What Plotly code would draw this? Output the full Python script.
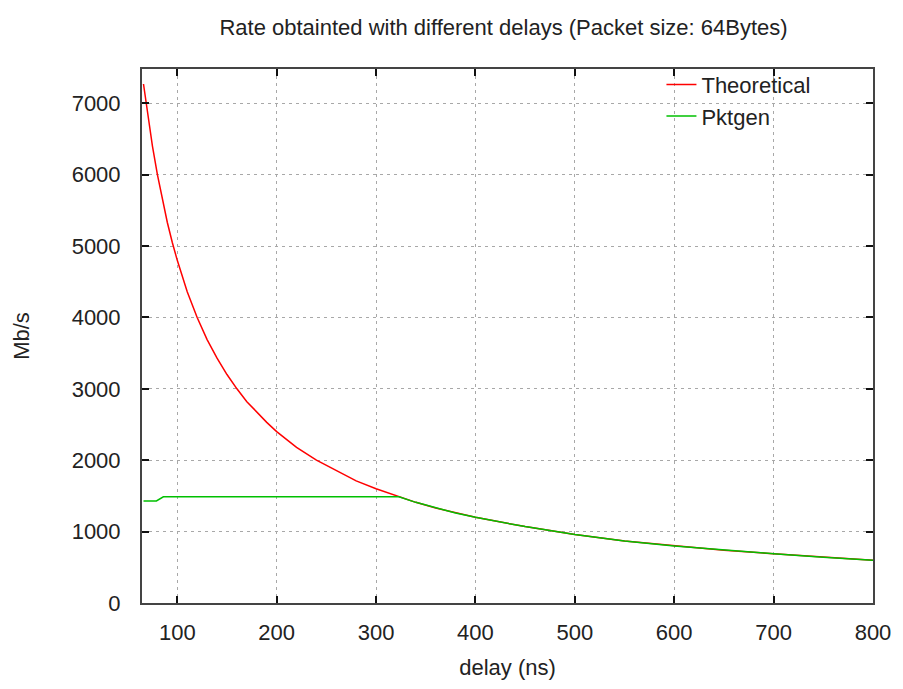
import plotly.graph_objects as go

# Delay values (ns) and the theoretical rate (Mb/s) at each delay
delay_theory = [66, 70, 75, 80, 85, 90, 95, 100, 110, 120, 130, 140, 150, 160,
                170, 180, 190, 200, 220, 240, 260, 280, 300, 320, 340, 360,
                380, 400, 450, 500, 550, 600, 650, 700, 750, 800]
rate_theory = [7270, 6860, 6400, 6000, 5650, 5330, 5050, 4800, 4360, 4000,
               3690, 3430, 3200, 3000, 2820, 2670, 2530, 2400, 2180, 2000,
               1850, 1710, 1600, 1500, 1410, 1330, 1260, 1200, 1070, 960,
               870, 800, 740, 690, 640, 600]

# Rate measured with pktgen
delay_pktgen = [66, 79, 86, 100, 150, 200, 250, 300, 323, 340, 360, 380, 400,
                450, 500, 550, 600, 650, 700, 750, 800]
rate_pktgen = [1430, 1430, 1487, 1487, 1487, 1487, 1487, 1487, 1487, 1410,
               1330, 1260, 1200, 1070, 960, 870, 800, 740, 690, 640, 600]

x_ticks = [100, 200, 300, 400, 500, 600, 700, 800]
y_ticks = [0, 1000, 2000, 3000, 4000, 5000, 6000, 7000]

FONT = "Liberation Sans, Arial, sans-serif"
TEXT = "#222222"
SIZE = 22

fig = go.Figure()
fig.add_trace(go.Scatter(x=delay_theory, y=rate_theory, mode="lines",
                         name="Theoretical",
                         line=dict(color="#ff0000", width=1.5)))
fig.add_trace(go.Scatter(x=delay_pktgen, y=rate_pktgen, mode="lines",
                         name="Pktgen",
                         line=dict(color="#00c000", width=1.5)))

axis_common = dict(
    showline=True, linecolor="#444444", linewidth=2, mirror="ticks",
    ticks="inside", ticklen=7, tickwidth=1.5, tickcolor="#111111",
    showgrid=True, gridcolor="#a8a8a8", gridwidth=1, griddash="3px,4px",
    zeroline=False, tickfont=dict(family=FONT, size=SIZE, color=TEXT),
)

fig.update_xaxes(range=[64.5, 800], tickvals=x_ticks, ticklabelstandoff=9,
                 title=dict(text="delay (ns)", standoff=15,
                            font=dict(family=FONT, size=SIZE, color=TEXT)),
                 **axis_common)
fig.update_yaxes(range=[0, 7480], tickvals=y_ticks, ticklabelstandoff=15,
                 title=dict(text="Mb/s", standoff=36,
                            font=dict(family=FONT, size=SIZE, color=TEXT)),
                 **axis_common)

# white panel behind the key, hiding the grid there
fig.add_shape(type="rect", xref="paper", yref="paper",
              x0=(600 - 142) / 736, x1=(862 - 142) / 736,
              y0=1 - (128 - 69) / 534, y1=1.0,
              fillcolor="white", line=dict(width=0), layer="between")

fig.update_layout(
    width=903, height=689,
    margin=dict(l=142, r=25, t=69, b=86),
    paper_bgcolor="white", plot_bgcolor="white",
    title=dict(text="Rate obtainted with different delays (Packet size: 64Bytes)",
               x=(506 - 142) / 736, xref="paper", xanchor="center",
               y=1 - 27 / 689, yanchor="middle",
               font=dict(family=FONT, size=SIZE, color=TEXT)),
    legend=dict(x=(665 - 142) / 736, y=1.01, xanchor="left", yanchor="top",
                bgcolor="rgba(0,0,0,0)", borderwidth=0, tracegroupgap=0,
                font=dict(family=FONT, size=SIZE, color=TEXT)),
    showlegend=True,
)

fig.write_html("out.html")
